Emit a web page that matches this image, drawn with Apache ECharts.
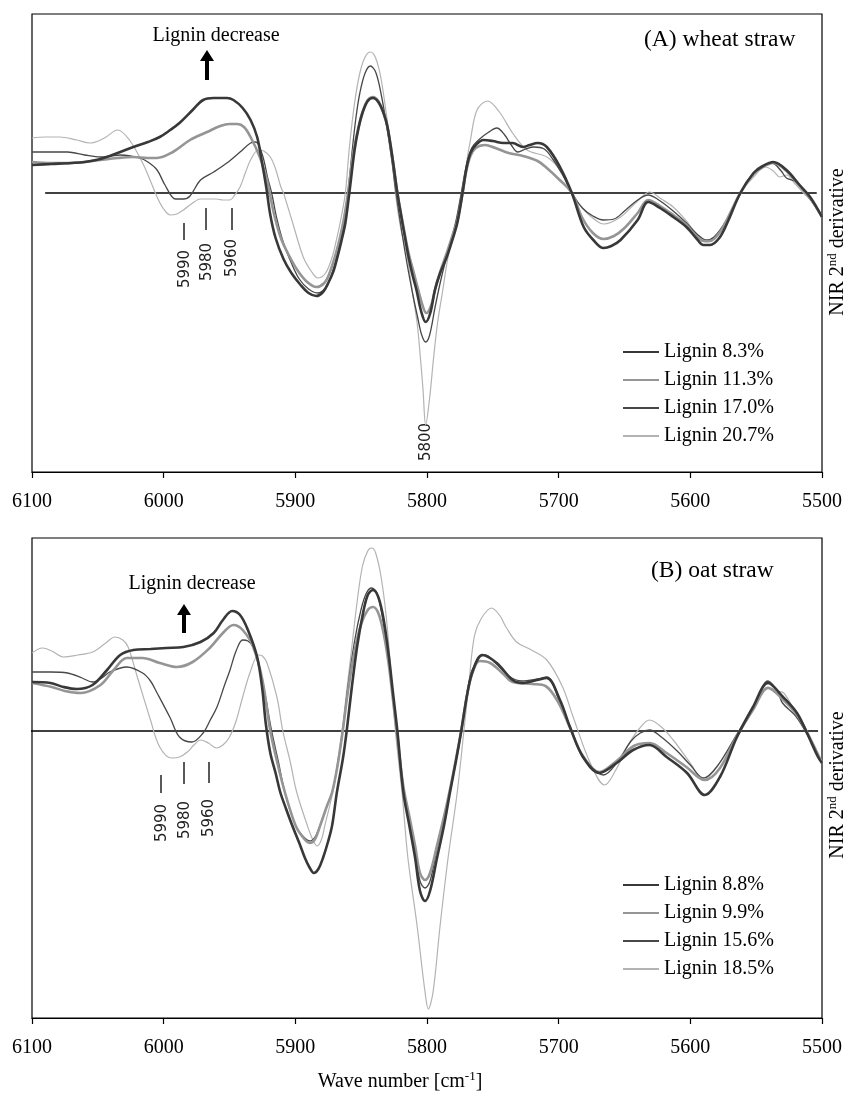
<!DOCTYPE html>
<html><head><meta charset="utf-8">
<script src="https://cdn.jsdelivr.net/npm/echarts@6/dist/echarts.min.js"></script>
<style>html,body{margin:0;padding:0;background:#fff}#c{width:847px;height:1093px}</style>
</head><body><div id="c"></div>
<script>
// x-axis tick values (wave number, cm-1)
const xTicks = [6100, 6000, 5900, 5800, 5700, 5600, 5500];
const namesA = ['Lignin 8.3%', 'Lignin 11.3%', 'Lignin 17.0%', 'Lignin 20.7%'];
const namesB = ['Lignin 8.8%', 'Lignin 9.9%', 'Lignin 15.6%', 'Lignin 18.5%'];
const titleA = '(A) wheat straw';
const titleB = '(B) oat straw';
const bandLabels = ['5990', '5980', '5960'];
const bigBandLabel = '5800';

// (A) wheat straw, NIR 2nd derivative (arbitrary units), [wave number, value]
const wheat83 = [[6100,28],[6085,29],[6070,30],[6060,31],[6048,34],[6035,40],[6023,46],[6012,51],[6003,56],[5995,63],[5988,70],[5978,83],[5970,93],[5962,95],[5952,95],[5947,93],[5940,85],[5934,73],[5929,56],[5925.5,32],[5922,5],[5919,-22],[5915,-45],[5909,-66],[5903,-80],[5896,-92],[5890,-100],[5884,-103],[5879,-99],[5875,-90],[5871,-78],[5868,-64],[5865,-48],[5862,-30],[5859,0],[5855,43],[5852,65],[5849,80],[5845,92],[5841,95],[5837,91],[5833,80],[5830,66],[5826,33],[5822.5,0],[5818,-35],[5814,-64],[5811,-82],[5808,-97],[5804.5,-118],[5801,-129],[5797.5,-120],[5794,-97],[5790,-80],[5785,-64],[5781,-48],[5777,-30],[5773,0],[5770,25],[5767,40],[5763,48],[5757,53],[5750,52],[5742,50],[5735,50],[5727,46],[5722,48],[5716,50],[5709,46],[5699,26],[5690,0],[5681,-34],[5673,-48],[5666,-55],[5660,-53],[5653,-47],[5640,-27],[5632,-9],[5623,-15],[5613,-24],[5603,-34],[5595,-46],[5590,-52],[5585,-52],[5578,-45],[5572,-30],[5562,0],[5552,20],[5545,27],[5537,31],[5527,23],[5517,8],[5509,-4],[5500,-24]];
const wheat113 = [[6100,31],[6085,30],[6073,30],[6060,31],[6048,33],[6035,35],[6023,36],[6012,35],[6005,35],[5993,41],[5980,53],[5967,61],[5957,67],[5950,69],[5944,69],[5939,66],[5934,56],[5927,36],[5921.5,13],[5919.5,0],[5916,-22],[5911,-45],[5905,-62],[5898,-78],[5891,-89],[5884,-94],[5878,-90],[5874,-80],[5870,-64],[5866,-44],[5863,-25],[5860,0],[5856,40],[5852,66],[5849,81],[5845,93],[5841,96],[5837,92],[5833,80],[5830,66],[5826,33],[5822.5,0],[5818,-33],[5814,-60],[5810,-80],[5806,-100],[5803,-114],[5800.5,-120],[5797,-113],[5793,-92],[5789,-75],[5785,-60],[5781,-44],[5777,-28],[5773,0],[5770,23],[5767,37],[5763,45],[5756,48],[5748,45],[5738,40],[5727,37],[5716,32],[5709,25],[5700,14],[5690,0],[5682,-25],[5674,-40],[5666,-46],[5658,-43],[5650,-35],[5640,-20],[5632,-7],[5623,-13],[5613,-22],[5603,-32],[5595,-44],[5590,-48],[5585,-48],[5578,-40],[5572,-26],[5562,0],[5552,19],[5545,26],[5537,30],[5527,22],[5517,7],[5509,-5],[5500,-24]];
const wheat170 = [[6100,41],[6085,41],[6073,41],[6060,38],[6048,36],[6040,37],[6033,38],[6025,37],[6018,35],[6012,31],[6005,23],[5999,8],[5991,-6],[5985,-6],[5980,-3],[5972,13],[5962,21],[5952,30],[5942,41],[5934,50],[5930,51],[5925,38],[5921,15],[5918,0],[5914,-26],[5909,-50],[5903,-70],[5897,-86],[5890,-96],[5883,-100],[5877,-95],[5873,-84],[5869,-66],[5865,-44],[5862,-22],[5860,0],[5857,40],[5854,75],[5851,100],[5847,120],[5843,127],[5839,121],[5835,100],[5831,70],[5827,35],[5823.5,0],[5819,-40],[5815,-72],[5811,-100],[5807,-125],[5804,-142],[5801,-149],[5798,-142],[5794,-115],[5790,-90],[5786,-68],[5782,-48],[5778,-28],[5774,0],[5770,28],[5766,45],[5760,54],[5753,61],[5747,65],[5741,58],[5736,48],[5731,41],[5725,44],[5719,46],[5711,44],[5704,33],[5697,18],[5690,0],[5682,-15],[5674,-23],[5666,-27],[5658,-26],[5650,-18],[5640,-7],[5632,-2],[5624,-7],[5613,-18],[5603,-30],[5595,-41],[5588,-47],[5582,-44],[5572,-26],[5562,0],[5552,20],[5545,27],[5538,30],[5531,22],[5527,15],[5521,12],[5516,6],[5509,-6],[5500,-24]];
const wheat207 = [[6100,55],[6090,56],[6079,56],[6066,53],[6056,50],[6045,55],[6035,63],[6026,53],[6016,30],[6010,12],[6005,-4],[6000,-16],[5995,-22],[5990,-21],[5985,-17],[5979,-11],[5972,-6],[5966,-6],[5960,-6],[5955,-7],[5950,-7],[5946,-2],[5942,6],[5938,20],[5934,33],[5928,43],[5924,42],[5919,36],[5915,24],[5911,6],[5909,0],[5902,-30],[5894,-64],[5888,-78],[5883,-85],[5877,-80],[5872,-64],[5869,-48],[5866,-30],[5862,0],[5859,45],[5855,90],[5851,120],[5847,136],[5843,141],[5839,135],[5835,115],[5831,80],[5827,40],[5824,0],[5820,-35],[5815,-64],[5811,-100],[5807.5,-130],[5805,-165],[5803,-197],[5801,-232],[5798,-205],[5795,-165],[5792,-130],[5788,-97],[5784,-64],[5778,-30],[5773,0],[5770,30],[5767,53],[5762,83],[5754,92],[5745,81],[5735,60],[5724,43],[5709,36],[5699,23],[5690,0],[5680,-18],[5670,-29],[5666,-31],[5653,-24],[5640,-8],[5631,1],[5622,-6],[5613,-14],[5603,-28],[5595,-42],[5588,-49],[5582,-45],[5572,-26],[5562,0],[5552,16],[5543,26],[5537,22],[5532,16],[5527,18],[5521,10],[5514,0],[5507,-10],[5500,-24]];

// (B) oat straw
const oat88 = [[6100,49],[6086,48],[6076,44],[6066,42],[6054,46],[6043,61],[6033,76],[6023,81],[6010,82],[5998,83],[5985,84],[5972,89],[5962,98],[5955,111],[5948,120],[5942,116],[5936,101],[5929,74],[5925,41],[5922.5,8],[5919,-22],[5915,-42],[5911.5,-61],[5907,-78],[5902.5,-94],[5897,-112],[5892.7,-127],[5889,-137],[5886,-142],[5882.5,-138],[5879,-127],[5875,-110],[5872,-94],[5868.4,-61],[5863.8,-27],[5861,0],[5857,45],[5853,85],[5849,115],[5845,136],[5841,141],[5837,134],[5833,112],[5829,75],[5826,40],[5822.5,0],[5818,-61],[5813.5,-94],[5809,-127],[5805.3,-160],[5801.5,-170],[5797.7,-160],[5792.4,-127],[5787,-94],[5782.5,-61],[5778,-30],[5774,0],[5769,40],[5765,61],[5758,76],[5747,68],[5735,51],[5727,48],[5716.5,51],[5709,53],[5699,31],[5691.4,4],[5681.5,-26],[5669,-42],[5656,-32],[5643.5,-19],[5631,-14],[5618,-26],[5602.5,-42],[5589,-64],[5577.5,-46],[5564.6,-6],[5552.4,24],[5541,48],[5529.6,34],[5519,18],[5511.4,-2],[5503,-26],[5500,-32]];
const oat99 = [[6100,48],[6085,44],[6075,40],[6063,38],[6048,46],[6038,61],[6028,73],[6016,73],[6003,68],[5990,64],[5978,69],[5965,83],[5955,98],[5947,106],[5940,101],[5932,84],[5925,51],[5919,0],[5914,-30],[5908,-61],[5900,-94],[5895,-105],[5889,-112],[5885,-108],[5881,-94],[5876,-75],[5872,-61],[5868,-35],[5864,0],[5860,40],[5855,80],[5850,107],[5845,121],[5841,124],[5837,118],[5833,98],[5829,66],[5826,33],[5823,0],[5818,-55],[5813,-88],[5809,-115],[5805.3,-142],[5801.5,-149],[5797.7,-142],[5792.5,-115],[5787,-85],[5782,-55],[5778,-28],[5774,0],[5770,33],[5766,56],[5760,70],[5752,68],[5742,57],[5735,49],[5720,47],[5710,45],[5700,28],[5691,2],[5682,-24],[5669,-41],[5656,-30],[5643,-15],[5631,-12],[5618,-22],[5603,-36],[5589,-49],[5578,-38],[5565,-6],[5552,22],[5541,43],[5530,32],[5519,16],[5511,-2],[5500,-32]];
const oat156 = [[6100,59],[6086,59],[6073,58],[6062,53],[6054,49],[6047,53],[6041,59],[6028,64],[6016,58],[6010,50],[6005,38],[5995,13],[5988,-6],[5978.5,-11],[5970,-2],[5965,10],[5959.5,24],[5954,45],[5949.6,61],[5945,80],[5940,91],[5936,90],[5932,84],[5925,50],[5918,0],[5913,-30],[5908,-61],[5900,-94],[5895,-104],[5889,-110],[5885,-106],[5881,-94],[5876,-75],[5872,-61],[5868,-35],[5864,0],[5860,45],[5855,90],[5850,122],[5846,138],[5842,143],[5838,138],[5834,115],[5830,80],[5826,40],[5823,0],[5818,-58],[5813,-92],[5809,-120],[5805.3,-150],[5801.5,-157],[5797.7,-150],[5792.5,-118],[5787,-87],[5782,-57],[5778,-28],[5774,0],[5770,35],[5766,60],[5760,74],[5756,76],[5748,68],[5738,55],[5728,50],[5716,52],[5709,54],[5700,32],[5691,3],[5682,-26],[5670,-42],[5666,-44],[5656,-32],[5645,-10],[5638,-2],[5631,1],[5622,-6],[5610,-20],[5600,-34],[5590,-47],[5580,-36],[5565,-4],[5552,24],[5541,50],[5534,40],[5530,28],[5520,15],[5511,-4],[5500,-32]];
const oat185 = [[6100,78],[6092,83],[6085,80],[6076,74],[6065,76],[6054,79],[6044,88],[6037,94],[6031,91],[6027,84],[6020,54],[6010,11],[6003,-16],[5994,-27],[5988,-26],[5982,-21],[5977,-14],[5972,-9],[5966,-12],[5960,-17],[5955,-14],[5950,-6],[5945,10],[5940,34],[5934,60],[5928,76],[5925,75],[5921.5,68],[5914,34],[5909.5,0],[5904,-30],[5899,-61],[5891,-94],[5887,-108],[5883.5,-115],[5880,-108],[5877.5,-94],[5871.5,-61],[5868,-32],[5864.5,0],[5861,40],[5857,85],[5853,130],[5849,165],[5845,180],[5842,183],[5839,178],[5835,155],[5831,115],[5827.5,60],[5824,0],[5819,-61],[5814.5,-127],[5807.6,-194],[5801.5,-261],[5799,-278],[5795.4,-261],[5790,-194],[5784,-127],[5777,-61],[5772,0],[5768,50],[5764,95],[5759,112],[5751,123],[5745,116],[5740,104],[5732,89],[5722,82],[5709,71],[5697,44],[5689,14],[5676,-32],[5665,-54],[5657,-40],[5648,-16],[5639,2],[5631,11],[5622,4],[5613,-9],[5600,-32],[5590,-49],[5580,-36],[5565,-6],[5552,22],[5541,44],[5534,40],[5529,38],[5520,18],[5511,-4],[5500,-30]];

// zero (baseline) lines
const zeroA = [[6090,0],[5504,0]];
const zeroB = [[6103,0],[5503,0]];

const dataA = [wheat83, wheat113, wheat170, wheat207];
const dataB = [oat88, oat99, oat156, oat185];

const styles = [
  {color:'#383838', width:2.6, z:6},
  {color:'#959595', width:2.6, z:5},
  {color:'#474747', width:1.3, z:4},
  {color:'#b3b3b3', width:1.2, z:3}
];
const SERIF = '"Liberation Serif", "Times New Roman", serif';

function xAxisCfg(gi){
  return {type:'value', gridIndex:gi, min:5500, max:6100, interval:100, inverse:true,
    axisLine:{show:true, onZero:false, lineStyle:{color:'#000', width:1.2}},
    axisTick:{show:true, inside:false, length:6, lineStyle:{color:'#000', width:1.2}},
    axisLabel:{show:true, margin:20, fontFamily:SERIF, fontSize:20, color:'#000',
      showMinLabel:true, showMaxLabel:true,
      formatter: v => xTicks.indexOf(v) >= 0 ? String(v) : ''},
    splitLine:{show:false}};
}
function curveSeries(names, data, gi){
  return names.map((n,i)=>({
    name:n, type:'line', xAxisIndex:gi, yAxisIndex:gi, data:data[i],
    smooth:0.35, symbol:'none', showSymbol:false, z:styles[i].z,
    lineStyle:{color:styles[i].color, width:styles[i].width},
    itemStyle:{color:styles[i].color}, silent:true, animation:false
  }));
}
function zeroSeries(d, gi){
  return {name:'zero'+gi, type:'line', xAxisIndex:gi, yAxisIndex:gi, data:d, symbol:'none',
    clip:false, z:2, silent:true, animation:false, lineStyle:{color:'#000', width:1.3}};
}
function legendCfg(names, top){
  return {data:names, orient:'vertical', left:622, top:top, padding:0, itemGap:8,
    itemWidth:36, itemHeight:14, selectedMode:false,
    itemStyle:{opacity:0},
    textStyle:{fontFamily:SERIF, fontSize:20, color:'#000', lineHeight:20}};
}
function arrow(x, top, bottom){
  return {type:'polygon', shape:{points:[[x,top],[x-7,top+11],[x-2,top+11],[x-2,bottom],[x+2,bottom],[x+2,top+11],[x+7,top+11]]},
    style:{fill:'#000'}};
}
function vtext(t, x, y, font, fill){
  return {type:'text', x:x, y:y, rotation:Math.PI/2,
    style:{text:t, font:font, fill:fill||'#222', align:'center', verticalAlign:'middle'}};
}
function seg(x, y1, y2){
  return {type:'line', shape:{x1:x, y1:y1, x2:x, y2:y2}, style:{stroke:'#222', lineWidth:1.5}};
}
const SANS = '15px "DejaVu Sans", sans-serif';
const yTitleRich = {
  a:{fontFamily:SERIF, fontSize:20, lineHeight:24, verticalAlign:'middle', fill:'#000'},
  s:{fontFamily:SERIF, fontSize:13, lineHeight:13, verticalAlign:'top', fill:'#000'}
};
function yTitle(x, y){
  return {type:'text', x:x, y:y, rotation:Math.PI/2,
    style:{text:'{a|NIR 2}{s|nd}{a| derivative}', rich:yTitleRich, align:'center', verticalAlign:'middle'}};
}

const chart = echarts.init(document.getElementById('c'), null, {renderer:'canvas'});
chart.setOption({
  backgroundColor:'#fff',
  animation:false,
  grid:[
    {left:32, top:14, width:790, height:458, show:true, borderColor:'#000', borderWidth:1.2},
    {left:32, top:538, width:790, height:480, show:true, borderColor:'#000', borderWidth:1.2}
  ],
  xAxis:[xAxisCfg(0), xAxisCfg(1)],
  yAxis:[
    {type:'value', gridIndex:0, min:-279, max:179, show:false},
    {type:'value', gridIndex:1, min:-287, max:193, show:false}
  ],
  legend:[legendCfg(namesA, 342), legendCfg(namesB, 875)],
  series:[zeroSeries(zeroA,0), zeroSeries(zeroB,1)]
    .concat(curveSeries(namesA, dataA, 0))
    .concat(curveSeries(namesB, dataB, 1)),
  graphic:[
    {type:'text', x:216, y:36, style:{text:'Lignin decrease', font:'20px '+SERIF, fill:'#000', align:'center', verticalAlign:'middle'}},
    arrow(207, 50, 80),
    {type:'text', x:192, y:584, style:{text:'Lignin decrease', font:'20px '+SERIF, fill:'#000', align:'center', verticalAlign:'middle'}},
    arrow(184, 604, 633),
    {type:'text', x:644, y:40, style:{text:titleA, font:'23.5px '+SERIF, fill:'#000', align:'left', verticalAlign:'middle'}},
    {type:'text', x:651, y:571, style:{text:titleB, font:'23.5px '+SERIF, fill:'#000', align:'left', verticalAlign:'middle'}},
    seg(184, 223, 240), seg(206, 208, 230), seg(232, 208, 230),
    vtext(bandLabels[0], 185, 269, SANS), vtext(bandLabels[1], 207, 262, SANS), vtext(bandLabels[2], 232, 258, SANS),
    vtext(bigBandLabel, 426, 442, SANS),
    seg(161, 775, 793), seg(184, 762, 784), seg(209, 762, 783),
    vtext(bandLabels[0], 162, 823, SANS), vtext(bandLabels[1], 185, 820, SANS), vtext(bandLabels[2], 209, 818, SANS),
    yTitle(838, 242), yTitle(838, 785),
    {type:'text', x:400, y:1082, style:{text:'{a|Wave number [cm}{s|-1}{a|]}', rich:yTitleRich, align:'center', verticalAlign:'middle'}}
  ]
});
</script></body></html>
